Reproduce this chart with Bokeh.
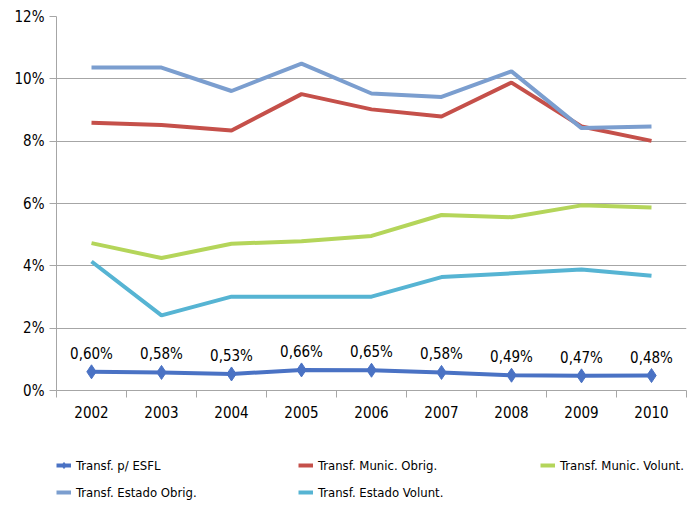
from bokeh.plotting import figure
from bokeh.layouts import column
from bokeh.models import FixedTicker, Legend, LegendItem, ColumnDataSource, Range1d, PrintfTickFormatter
from bokeh.core.properties import value
from bokeh.embed import file_html
from bokeh.resources import INLINE

years = ["2002", "2003", "2004", "2005", "2006", "2007", "2008", "2009", "2010"]
esfl = [0.60, 0.58, 0.53, 0.66, 0.65, 0.58, 0.49, 0.47, 0.48]
munic_obrig = [8.59, 8.52, 8.34, 9.51, 9.02, 8.79, 9.88, 8.47, 8.01]
munic_volunt = [4.73, 4.25, 4.71, 4.79, 4.96, 5.63, 5.56, 5.94, 5.87]
estado_obrig = [10.36, 10.36, 9.61, 10.49, 9.53, 9.42, 10.24, 8.42, 8.47]
estado_volunt = [4.14, 2.41, 3.01, 3.01, 3.01, 3.64, 3.76, 3.88, 3.68]
y_ticks = [0, 2, 4, 6, 8, 10, 12]

names = ["Transf. p/ ESFL", "Transf. Munic. Obrig.", "Transf. Munic. Volunt.",
         "Transf. Estado Obrig.", "Transf. Estado Volunt."]

FONT = "DejaVu Sans Condensed"
GRID = "#A6A6A6"
LW = 4

colors = {
    "esfl": "#4A72C4",
    "munic_obrig": "#C5504A",
    "munic_volunt": "#B4D55A",
    "estado_obrig": "#7B9ECF",
    "estado_volunt": "#56B4D3",
}

x = [i + 0.5 for i in range(len(years))]

p = figure(width=687, height=430, x_range=Range1d(0, len(years)), y_range=Range1d(0, 12),
           output_backend="svg", toolbar_location=None,
           min_border_left=56, min_border_right=1, min_border_top=16, min_border_bottom=40)
p.outline_line_color = None
p.background_fill_color = "white"

# axes
p.xaxis.ticker = FixedTicker(ticks=x, minor_ticks=list(range(len(years) + 1)))
p.xaxis.major_label_overrides = {xi: y for xi, y in zip(x, years)}
p.xaxis.major_tick_out = 0
p.xaxis.major_tick_in = 0
p.xaxis.minor_tick_out = 7
p.xaxis.minor_tick_in = 0
p.xaxis.minor_tick_line_color = GRID
p.xaxis.axis_line_color = GRID
p.xaxis.major_label_standoff = 8
p.xaxis.major_label_text_font = FONT
p.xaxis.major_label_text_font_size = "15px"
p.xaxis.major_label_text_color = "#000000"

p.yaxis.ticker = FixedTicker(ticks=y_ticks, minor_ticks=[])
p.yaxis.formatter = PrintfTickFormatter(format="%d%%")
p.yaxis.major_tick_out = 7
p.yaxis.major_tick_in = 0
p.yaxis.major_tick_line_color = GRID
p.yaxis.axis_line_color = GRID
p.yaxis.major_label_standoff = 5
p.yaxis.major_label_text_font = FONT
p.yaxis.major_label_text_font_size = "15px"
p.yaxis.major_label_text_color = "#000000"

p.xgrid.grid_line_color = None
p.ygrid.ticker = FixedTicker(ticks=y_ticks)
p.ygrid.grid_line_color = GRID
p.ygrid.grid_line_width = 1

p.line(x, munic_volunt, line_color=colors["munic_volunt"], line_width=LW)
p.line(x, estado_volunt, line_color=colors["estado_volunt"], line_width=LW)
p.line(x, munic_obrig, line_color=colors["munic_obrig"], line_width=LW)
p.line(x, estado_obrig, line_color=colors["estado_obrig"], line_width=LW)
p.line(x, esfl, line_color=colors["esfl"], line_width=LW)
p.scatter(x, esfl, marker="diamond", size=14, fill_color=colors["esfl"], line_color=colors["esfl"])

labels = [f"{v:.2f}%".replace(".", ",") for v in esfl]
src = ColumnDataSource(dict(x=x, y=esfl, t=labels))
p.text(x="x", y="y", text="t", source=src, y_offset=-18, text_align="center",
       text_baseline="alphabetic", text_font=value(FONT), text_font_size="15px", text_color="#000000")

# legend in its own strip below the chart (its frame is aligned with the chart's frame)
lf = figure(width=687, height=78, x_range=Range1d(0, 1), y_range=Range1d(0, 1),
            output_backend="svg", toolbar_location=None,
            min_border_left=0, min_border_right=0, min_border_top=0, min_border_bottom=0)
lf.axis.visible = False
lf.grid.visible = False
lf.outline_line_color = None

# off-range placeholder renderers, only used to draw the legend glyphs
ox, oy = [-10], [-10]
g_el = lf.line(ox, oy, line_color=colors["esfl"], line_width=LW)
g_es = lf.scatter(ox, oy, marker="diamond", size=10, fill_color=colors["esfl"], line_color=colors["esfl"])
g_mo = lf.line(ox, oy, line_color=colors["munic_obrig"], line_width=LW)
g_mv = lf.line(ox, oy, line_color=colors["munic_volunt"], line_width=LW)
g_eo = lf.line(ox, oy, line_color=colors["estado_obrig"], line_width=LW)
g_ev = lf.line(ox, oy, line_color=colors["estado_volunt"], line_width=LW)

legend = Legend(items=[
    LegendItem(label=names[0], renderers=[g_el, g_es]),
    LegendItem(label=names[1], renderers=[g_mo]),
    LegendItem(label=names[2], renderers=[g_mv]),
    LegendItem(label=names[3], renderers=[g_eo]),
    LegendItem(label=names[4], renderers=[g_ev]),
], orientation="horizontal", ncols=3)
legend.label_text_font = FONT
legend.label_text_font_size = "13px"
legend.label_text_color = "#000000"
legend.label_width = 215
legend.label_height = 20
legend.glyph_width = 15
legend.glyph_height = 20
legend.label_standoff = 5
legend.spacing = 7
legend.padding = 0
legend.margin = 0
legend.border_line_color = None
legend.background_fill_alpha = 0
legend.location = (0, 6)
lf.add_layout(legend, "center")

layout = column(p, lf, spacing=0)
open("out.html", "w").write(file_html(layout, INLINE))
